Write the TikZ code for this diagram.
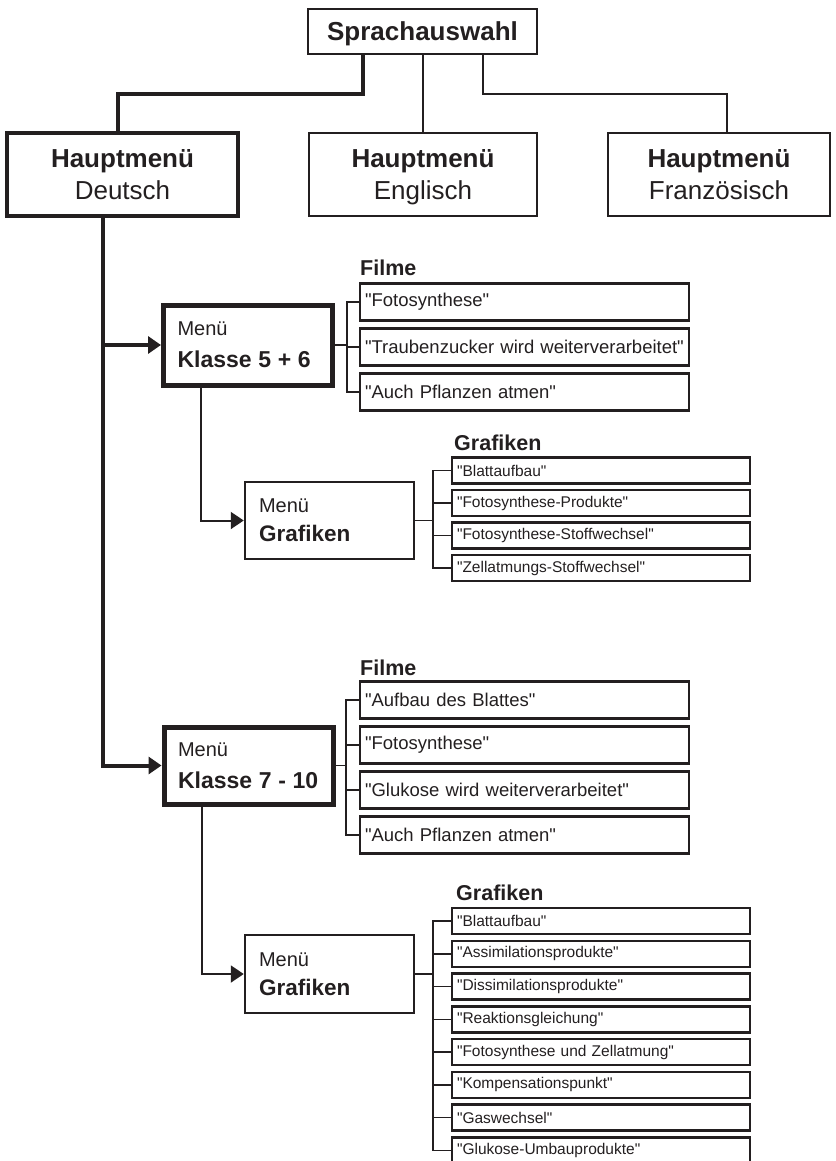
\documentclass[tikz,border=0pt]{standalone}
\usepackage{fontspec}
\setmainfont{Liberation Sans}[Ligatures=TeXOff]
\usepackage{tikz}
\usetikzlibrary{arrows.meta,positioning,calc}
\definecolor{tinte}{RGB}{35,31,32}

\tikzset{
  kopf/.style={draw, line width=2pt, minimum width=229pt, minimum height=45pt, text depth=0pt, font=\bfseries\fontsize{26}{30}\selectfont},
  haupt/.style={draw, line width=2pt, minimum height=83pt, align=center, font=\fontsize{26}{32}\selectfont},
  menue/.style={draw, inner xsep=14pt, text width=141pt, align=left, font=\fontsize{20}{32}\selectfont},
  titel/.style={inner sep=0pt, anchor=base west, font=\bfseries\fontsize{21.5}{24}\selectfont},
  filmbox/.style={draw, line width=2.5pt, inner xsep=5pt, text width=319pt, minimum height=37pt, align=left, font=\fontsize{18.5}{22}\selectfont},
  grafbox/.style={draw, line width=2.5pt, inner xsep=5pt, text width=288pt, minimum height=26pt, align=left, font=\fontsize{15.5}{18}\selectfont},
  dick/.style={line width=4pt},
  duenn/.style={line width=2pt},
  klammer/.style={line width=1.5pt},
  pfeil/.style={-{Triangle[length=13pt,width=17pt]}}
}

\begin{document}
\begin{tikzpicture}[x=1pt, y=-1pt, color=tinte]
            \useasboundingbox (0,0) rectangle (835,1161);

            \node[kopf] (spr) at (422.5,31.5) {Sprachauswahl};

            \node[haupt, line width=4pt, minimum width=231pt] (hmD) at (122.5,174.5) {\textbf{Hauptmenü}\\Deutsch};
            \node[haupt, minimum width=228pt] (hmE) at (423,174.5) {\textbf{Hauptmenü}\\\smash{Englisch}};
            \node[haupt, minimum width=222pt] (hmF) at (719,174.5) {\textbf{Hauptmenü}\\Französisch};

            \coordinate (abzwD) at (118,94);
            \coordinate (abzwF) at (727,94);
            \draw[dick] ($(spr.south)+(-60,0)$) |- (abzwD) -- (abzwD |- hmD.north);
            \draw[duenn] (spr.south) -- (spr.south |- hmE.north);
            \draw[duenn] ($(spr.south)+(60,0)$) |- (abzwF) -- (abzwF |- hmF.north);

            % Klasse 5 + 6
            \node[menue, line width=5pt, minimum height=80pt] (K56) at (248,345) {Menü\\{\bfseries\fontsize{23}{32}\selectfont Klasse 5 + 6}};
            \node[menue, line width=2.5pt, minimum height=77pt, font=\fontsize{20}{29}\selectfont] (G56) at (329.5,520.5) {Menü\\{\bfseries\fontsize{22.5}{29}\selectfont Grafiken}};

            \node[titel] (F56) at (360,275) {Filme};
            \node[filmbox] (F56_1) at (524.5,302) {"Fotosynthese"};
            \node[filmbox] (F56_2) at (524.5,347) {"Traubenzucker wird weiterverarbeitet"};
            \node[filmbox] (F56_3) at (524.5,392) {"Auch Pflanzen atmen"};

            \node[titel] (T56) at (454,450) {Grafiken};
            \node[grafbox] (G56_1) at (601,470.5) {"Blattaufbau"};
            \node[grafbox] (G56_2) at (601,503) {"Fotosynthese-Produkte"};
            \node[grafbox] (G56_3) at (601,535.5) {"Fotosynthese-Stoffwechsel"};
            \node[grafbox] (G56_4) at (601,568) {"Zellatmungs-Stoffwechsel"};

            % Klasse 7 - 10
            \node[menue, line width=5pt, minimum height=77pt] (K710) at (248.5,765.5) {Menü\\{\bfseries\fontsize{23}{32}\selectfont Klasse 7 - 10}};
            \node[menue, line width=2.5pt, minimum height=78pt, font=\fontsize{20}{29}\selectfont] (G710) at (329.5,974) {Menü\\{\bfseries\fontsize{22.5}{29}\selectfont Grafiken}};

            \node[titel] (F710) at (360,675) {Filme};
            \node[filmbox] (F710_1) at (524.5,700) {"Aufbau des Blattes"};
            \node[filmbox] (F710_2) at (524.5,745) {"Fotosynthese"};
            \node[filmbox] (F710_3) at (524.5,790) {"Glukose wird weiterverarbeitet"};
            \node[filmbox] (F710_4) at (524.5,835) {"Auch Pflanzen atmen"};

            \node[titel] (T710) at (456,900) {Grafiken};
            \node[grafbox] (G710_1) at (601,921) {"Blattaufbau"};
            \node[grafbox] (G710_2) at (601,953.75) {"Assimilationsprodukte"};
            \node[grafbox] (G710_3) at (601,986.5) {"Dissimilationsprodukte"};
            \node[grafbox] (G710_4) at (601,1019.25) {"Reaktionsgleichung"};
            \node[grafbox] (G710_5) at (601,1052) {"Fotosynthese und Zellatmung"};
            \node[grafbox] (G710_6) at (601,1084.75) {"Kompensationspunkt"};
            \node[grafbox] (G710_7) at (601,1117.5) {"Gaswechsel"};
            \node[grafbox] (G710_8) at (601,1150.25) {"Glukose-Umbauprodukte"};

            % Define the edges
            \coordinate (stamm) at ($(hmD.south)+(-19.5,0)$);
            \draw[dick, pfeil] (stamm) |- (K710.west);
            \draw[dick, pfeil] (stamm |- K56.west) -- (K56.west);

            \draw[duenn, pfeil] ($(K56.south)+(-47,0)$) |- (G56.west);
            \draw[duenn, pfeil] ($(K710.south)+(-46.5,0)$) |- (G710.west);

            \coordinate (kF56) at (347,345);
            \draw[klammer] (K56.east) -- (kF56);
            \draw[klammer] (F56_1.west) -| (kF56);
            \draw[klammer] (F56_2.west) -| (kF56);
            \draw[klammer] (F56_3.west) -| (kF56);

            \coordinate (kG56) at (433,520.5);
            \draw[klammer] (G56.east) -- (kG56);
            \draw[klammer] (G56_1.west) -| (kG56);
            \draw[klammer] (G56_2.west) -| (kG56);
            \draw[klammer] (G56_3.west) -| (kG56);
            \draw[klammer] (G56_4.west) -| (kG56);

            \coordinate (kF710) at (346,765.5);
            \draw[klammer] (K710.east) -- (kF710);
            \draw[klammer] (F710_1.west) -| (kF710);
            \draw[klammer] (F710_2.west) -| (kF710);
            \draw[klammer] (F710_3.west) -| (kF710);
            \draw[klammer] (F710_4.west) -| (kF710);

            \coordinate (kG710) at (433,974);
            \draw[klammer] (G710.east) -- (kG710);
            \draw[klammer] (G710_1.west) -| (kG710);
            \draw[klammer] (G710_2.west) -| (kG710);
            \draw[klammer] (G710_3.west) -| (kG710);
            \draw[klammer] (G710_4.west) -| (kG710);
            \draw[klammer] (G710_5.west) -| (kG710);
            \draw[klammer] (G710_6.west) -| (kG710);
            \draw[klammer] (G710_7.west) -| (kG710);
            \draw[klammer] (G710_8.west) -| (kG710);
      \end{tikzpicture}
\end{document}
